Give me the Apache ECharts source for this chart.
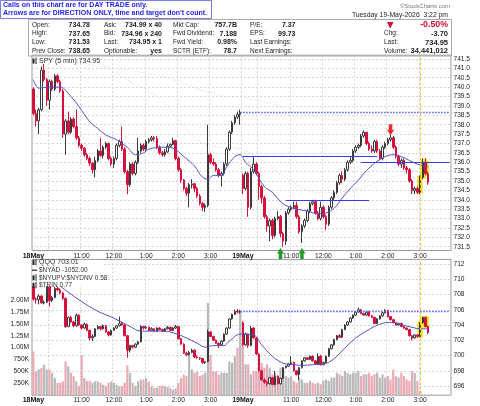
<!DOCTYPE html>
<html><head><meta charset="utf-8">
<script src="https://cdn.jsdelivr.net/npm/echarts@6/dist/echarts.min.js"></script>
<style>html,body{margin:0;padding:0;background:#fff}#c{width:480px;height:406px}</style>
</head><body><div id="c"></div><script>
// ---------- DATA ----------
const tickIdx = [0,18,30,42,54,66,78,96,108,120,132,144];
const tickLabels = ['18May','11:00','12:00','1:00','2:00','3:00','19May','11:00','12:00','1:00','2:00','3:00'];
const boldTicks = ['18May','19May'];
const gridIdx = [6,18,30,42,54,66,78,84,96,108,120,132,144];

const spyO = [739.90,738.60,738.20,738.80,740.90,740.40,739.30,740.30,739.90,740.60,
740.30,739.80,737.50,738.20,737.60,738.30,737.90,737.30,736.90,736.75,
736.40,736.20,735.95,735.60,736.10,736.60,736.35,736.80,737.00,736.20,
735.90,736.20,736.90,737.10,736.70,735.50,734.80,735.90,735.40,736.00,
736.60,736.90,736.70,737.10,737.20,737.30,737.25,736.80,736.50,736.40,
736.55,736.85,736.95,737.15,736.20,735.60,735.05,734.60,734.35,734.80,
734.85,734.60,734.20,733.80,733.60,733.70,736.40,736.00,735.90,735.60,
735.30,735.40,735.90,736.70,737.60,738.10,738.40,738.55,
735.30,734.60,735.40,733.60,735.50,735.90,735.40,734.70,734.10,733.10,
732.60,732.90,732.10,733.00,733.10,732.20,731.80,733.30,733.50,733.60,
733.70,733.10,732.30,732.60,732.90,733.40,733.80,733.90,733.30,733.00,
733.60,733.10,732.70,733.60,734.10,734.40,734.90,735.30,735.10,735.60,
736.00,736.10,736.60,736.80,736.90,737.40,737.60,737.00,736.70,736.60,
737.10,736.60,736.20,736.80,737.00,737.20,737.30,736.80,736.30,735.90,
736.10,735.70,735.60,735.00,734.50,734.60,734.40,735.20,736.00,735.40];
const spyH = [740.00,738.80,738.90,741.10,741.25,740.50,740.40,740.40,740.70,740.70,
740.40,739.90,738.30,738.70,738.40,738.40,738.80,737.40,737.00,736.80,
736.50,736.30,736.00,736.30,736.70,737.30,736.90,737.10,737.05,736.30,
736.30,737.00,737.20,737.90,736.80,735.60,736.00,736.00,736.10,737.30,
737.00,737.00,737.20,737.30,737.40,737.40,737.40,736.90,736.60,736.70,
737.00,737.00,737.30,737.20,736.30,735.70,735.10,734.70,734.90,735.10,
734.90,734.70,734.30,733.90,733.80,738.00,736.50,736.20,736.00,735.70,
735.50,736.00,736.80,737.70,738.20,738.50,738.70,738.80,
735.40,735.50,735.50,735.70,736.30,736.00,735.50,734.80,734.20,733.20,
733.00,733.00,733.10,733.40,733.20,732.30,733.40,733.60,733.70,733.90,
733.90,733.20,732.70,733.00,733.50,733.90,734.00,734.00,733.40,733.90,
733.70,733.20,733.70,734.20,734.50,735.00,735.40,735.50,735.70,736.10,
736.30,736.70,736.90,737.00,737.50,737.70,737.60,737.10,736.90,737.20,
737.20,736.70,736.90,737.10,737.30,737.60,737.40,736.90,736.40,736.20,
736.20,735.80,735.70,735.10,734.70,734.70,735.30,736.20,736.20,735.50];
const spyL = [738.50,737.90,737.50,738.70,740.30,739.00,738.80,739.80,739.80,740.20,
739.70,737.30,736.40,737.50,737.50,737.80,737.20,736.80,736.60,736.30,
736.10,735.80,735.40,735.20,736.00,736.30,736.20,736.70,736.10,735.80,
735.70,736.10,736.80,736.60,735.40,734.30,734.70,735.30,735.30,735.90,
736.50,736.60,736.60,737.00,737.10,737.10,736.70,736.40,736.30,736.30,
736.50,736.80,736.90,736.10,735.50,734.90,734.50,734.20,733.60,734.60,
734.40,734.10,733.70,733.40,733.35,733.60,735.90,735.80,735.50,735.20,
734.70,735.30,735.80,736.60,737.50,738.00,738.30,738.00,
734.30,734.50,733.10,733.50,735.40,735.30,734.00,733.80,733.00,732.30,
731.80,731.90,732.00,732.90,732.00,731.50,731.60,733.20,733.40,733.50,
733.00,732.20,731.70,732.50,732.80,733.30,733.70,733.20,732.90,732.90,
733.00,732.40,732.60,733.50,734.00,734.30,734.80,734.90,735.00,735.50,
735.90,736.00,736.50,736.70,736.80,737.30,736.90,736.60,736.50,736.50,
736.50,736.10,736.10,736.70,736.90,737.10,736.70,736.20,735.80,735.70,
735.60,735.40,734.90,734.30,734.30,734.30,734.30,735.10,735.30,734.80];
const spyC = [738.60,738.20,738.80,740.90,740.40,739.30,740.30,739.90,740.60,740.30,
739.80,737.50,738.20,737.60,738.30,737.90,737.30,736.90,736.75,736.40,
736.20,735.95,735.60,736.10,736.60,736.35,736.80,737.00,736.20,735.90,
736.20,736.90,737.10,736.70,735.50,734.80,735.90,735.40,736.00,736.60,
736.90,736.70,737.10,737.20,737.30,737.25,736.80,736.50,736.40,736.55,
736.85,736.95,737.15,736.20,735.60,735.05,734.60,734.35,734.80,734.85,
734.60,734.20,733.80,733.60,733.70,736.40,736.00,735.90,735.60,735.30,
735.40,735.90,736.70,737.60,738.10,738.40,738.55,738.65,
734.60,735.40,733.60,735.50,735.90,735.40,734.70,734.10,733.10,732.60,
732.90,732.10,733.00,733.10,732.20,731.80,733.30,733.50,733.60,733.70,
733.10,732.30,732.60,732.90,733.40,733.80,733.90,733.30,733.00,733.60,
733.10,732.70,733.60,734.10,734.40,734.90,735.30,735.10,735.60,736.00,
736.10,736.60,736.80,736.90,737.40,737.60,737.00,736.70,736.60,737.10,
736.60,736.20,736.80,737.00,737.20,737.30,736.80,736.30,735.90,736.10,
735.70,735.60,735.00,734.50,734.60,734.40,735.20,736.00,735.40,734.95];

// SPY moving averages: [bar index, value]
const spyMaBlue = [[0,740.40],[2,739.95],[6,740.00],[10,740.00],[14,739.50],[17,738.96],[21,738.16],[24,737.80],[27,737.45],[31,737.20],[35,736.80],[38,736.40],[41,736.50],[43,736.70],[48,736.80],[52,736.75],[56,736.30],[60,735.80],[63,735.20],[65,735.10],[67,735.30],[70,735.30],[72,735.76],[75,736.30],[77,736.40],[79,736.00],[82,735.60],[86,734.70],[89,734.40],[92,733.90],[94,733.70],[98,733.50],[102,733.40],[106,733.25],[109,733.30],[112,733.55],[115,734.10],[118,734.60],[121,735.05],[124,735.55],[127,735.95],[131,736.30],[134,736.40],[137,736.30],[140,736.10],[143,735.90],[147,735.76]];
const spyMaPink = [[22,741.5],[26,741.2],[36,740.3],[47,739.4],[58,737.6],[65,736.9],[77,736.7],[83,736.3],[94,735.2],[106,734.4],[119,734.5],[131,735.1],[144,735.6]];
const spyMaGreen = [[12,741.5],[17,741.3],[48,740.55],[68,739.6],[77,739.46],[88,739.15],[106,738.4],[125,737.9],[147,737.45]];

const spyPrevClose = 738.65;
const spyLevels = [[78,128,736.32],[122,155,736.00],[94,125,733.97]]; // [from, to, price]
const spyDownArrows = [[133,737.73]];
const spyUpArrows = [[92,731.3],[100,731.3]];
const markIdx = 144;
const hiIdx = [144,145,146];

const qqqO = [709.00,707.40,707.30,707.80,706.90,707.00,709.00,707.20,707.60,708.80,
708.60,708.20,707.50,703.80,705.00,704.40,703.90,705.30,704.00,703.60,
704.10,703.30,702.30,702.50,703.50,703.80,703.50,703.90,703.10,702.70,
703.30,703.60,703.90,704.20,704.00,702.60,700.70,701.30,701.10,701.50,
701.80,703.80,703.60,703.70,703.30,703.50,703.20,703.60,703.40,703.20,
703.50,703.70,703.30,703.60,703.80,702.20,701.50,700.30,700.10,700.40,
700.70,699.80,699.70,699.60,699.10,699.20,703.10,702.50,702.00,701.60,
701.40,701.90,702.80,703.60,704.80,705.40,705.80,705.70,
704.30,701.40,702.80,701.30,703.60,702.30,700.20,698.00,696.80,696.50,
696.30,697.10,696.20,697.30,696.30,697.00,698.40,698.60,698.90,699.10,
698.00,697.50,698.40,699.30,699.70,699.50,699.90,699.30,698.90,699.90,
698.80,699.10,699.90,700.90,701.40,702.10,702.60,702.40,703.40,704.00,
704.40,704.90,705.30,705.70,706.00,705.50,705.30,705.70,705.20,705.00,
704.20,704.80,705.20,705.60,705.90,705.10,704.70,704.30,704.00,704.20,
703.80,703.60,703.40,702.60,702.30,702.70,702.50,704.30,705.00,703.80];
const qqqH = [709.10,707.60,708.00,707.90,707.20,709.10,709.10,707.80,709.00,709.00,
708.80,708.30,707.60,705.10,705.20,704.50,705.50,705.40,704.10,704.30,
704.20,703.40,702.80,703.60,704.00,703.90,704.10,704.00,703.20,703.40,
703.70,704.00,705.10,704.40,704.10,702.70,701.40,701.40,701.60,701.90,
704.00,703.90,703.90,703.80,703.70,703.60,703.70,703.70,703.50,703.60,
703.90,703.80,703.70,704.00,703.90,702.30,701.60,700.50,700.60,700.90,
700.80,700.00,699.80,699.70,699.30,703.40,703.20,702.60,702.10,701.70,
702.00,702.90,703.70,704.90,705.50,706.00,706.10,706.00,
704.50,703.00,702.90,703.90,703.70,702.40,700.30,698.10,697.00,696.70,
697.20,697.20,698.00,697.40,697.10,698.50,698.70,699.00,699.90,699.20,
698.10,698.50,699.40,699.80,699.80,700.00,700.00,699.40,700.30,700.10,
699.20,700.00,701.00,701.50,702.20,702.70,702.80,703.50,704.10,704.50,
705.00,705.40,705.80,706.30,706.10,705.60,705.80,705.80,705.30,705.10,
704.90,705.30,705.70,706.10,706.00,705.20,704.80,704.40,704.30,704.30,
703.90,703.70,703.50,702.70,702.80,702.80,704.40,705.10,705.10,703.90];
const qqqL = [707.20,706.80,706.70,706.80,706.70,706.90,706.40,707.00,707.50,708.40,
708.00,707.30,703.60,703.70,704.30,703.70,703.80,703.90,703.40,703.50,
703.20,702.00,701.90,702.40,703.40,703.30,703.40,703.00,702.50,702.60,
703.20,703.50,703.80,703.90,702.50,699.70,700.40,700.90,701.00,701.40,
701.70,703.40,703.50,703.20,703.20,703.10,703.10,703.30,703.10,703.10,
703.40,703.20,703.20,703.50,702.10,701.40,700.20,699.90,700.00,700.30,
699.70,699.60,699.40,698.90,698.90,699.10,702.40,701.90,701.50,701.00,
701.30,701.80,702.70,703.50,704.70,705.30,705.50,705.50,
701.20,701.30,701.00,701.20,702.20,700.10,697.90,696.70,696.30,696.00,
696.20,696.10,696.10,696.20,696.20,696.90,698.30,698.50,698.80,697.90,
697.40,696.80,698.30,699.20,699.40,699.40,699.20,698.80,698.80,698.70,
698.70,699.00,699.80,700.80,701.30,702.00,702.30,702.30,703.30,703.90,
704.30,704.80,705.20,705.60,705.40,705.20,705.20,705.10,704.90,704.10,
704.10,704.70,705.10,705.50,705.00,704.60,704.20,703.90,703.90,703.70,
703.50,703.30,702.50,702.00,702.20,702.30,702.40,704.20,703.70,702.80];
const qqqC = [707.40,707.30,707.80,706.90,707.00,709.00,707.20,707.60,708.80,708.60,
708.20,707.50,703.80,705.00,704.40,703.90,705.30,704.00,703.60,704.10,
703.30,702.30,702.50,703.50,703.80,703.50,703.90,703.10,702.70,703.30,
703.60,703.90,704.20,704.00,702.60,700.70,701.30,701.10,701.50,701.80,
703.80,703.60,703.70,703.30,703.50,703.20,703.60,703.40,703.20,703.50,
703.70,703.30,703.60,703.80,702.20,701.50,700.30,700.10,700.40,700.70,
699.80,699.70,699.60,699.10,699.20,703.10,702.50,702.00,701.60,701.40,
701.90,702.80,703.60,704.80,705.40,705.80,705.70,705.80,
701.40,702.80,701.30,703.60,702.30,700.20,698.00,696.80,696.50,696.30,
697.10,696.20,697.30,696.30,697.00,698.40,698.60,698.90,699.10,698.00,
697.50,698.40,699.30,699.70,699.50,699.90,699.30,698.90,699.90,698.80,
699.10,699.90,700.90,701.40,702.10,702.60,702.40,703.40,704.00,704.40,
704.90,705.30,705.70,706.00,705.50,705.30,705.70,705.20,705.00,704.20,
704.80,705.20,705.60,705.90,705.10,704.70,704.30,704.00,704.20,703.80,
703.60,703.40,702.60,702.30,702.70,702.50,704.30,705.00,703.80,703.01];
const qqqMaBlue = [[10,709.1],[17,707.3],[24,705.8],[30,704.9],[36,703.8],[40,703.2],[48,703.2],[52,703.0],[57,702.3],[61,701.6],[64,701.1],[67,701.3],[71,701.3],[73,701.9],[77,702.8],[82,702.7],[85,701.4],[89,699.9],[93,699.0],[97,698.8],[100,698.7],[104,698.8],[108,698.9],[110,699.1],[113,699.9],[116,701.0],[120,702.3],[124,703.2],[127,703.8],[131,704.3],[134,704.35],[137,704.05],[141,703.7],[144,703.5],[147,703.5]];
const qqqPrevClose = 705.8;
// QQQ volume, millions
const qqqVol = [0.92,0.50,0.54,0.57,0.64,0.54,0.54,0.47,0.36,0.26,
0.26,0.29,0.71,0.61,0.47,0.40,0.29,0.19,0.85,0.36,
0.30,0.30,0.26,0.29,0.29,0.26,0.22,0.19,0.26,0.29,
0.26,0.22,0.19,0.19,0.26,0.63,0.47,0.26,0.19,0.29,
0.33,0.33,0.36,0.29,0.19,0.15,0.15,0.19,0.20,0.19,
0.17,0.15,0.12,0.14,0.26,0.36,0.43,0.40,0.85,0.54,
0.47,0.50,0.40,0.43,0.47,1.94,0.85,0.50,0.50,0.43,
0.47,0.47,0.47,0.71,0.68,0.82,1.00,1.75,
1.04,0.65,0.65,0.44,0.51,0.51,0.72,0.68,0.58,0.65,
0.58,0.44,0.47,0.40,0.58,0.51,0.40,0.37,0.40,0.30,
0.26,0.37,0.33,0.26,0.26,0.30,0.26,0.24,0.26,0.23,
0.30,0.33,0.30,0.37,0.37,0.47,0.44,0.40,0.51,0.47,
0.44,0.47,0.47,0.51,0.40,0.44,0.44,0.47,0.40,0.44,
0.47,0.37,0.44,0.37,0.40,0.33,0.54,0.40,0.37,0.47,
0.40,0.33,0.30,0.51,0.47,0.30,0.09,0,0,0];

// ---------- BUILD ----------
const FONT = '"Liberation Sans", Arial, sans-serif';
const RED = '#d5113d', DARK = '#3a3a3a', PINK = '#e9aab5', GREY = '#b9b9b9', YEL = '#f2e21a';
const cats = [];
['18','19'].forEach(d => { for (let k = 0; k < 78; k++) { const m = 570 + 5*k; cats.push(d + ' ' + Math.floor(m/60) + ':' + String(m%60).padStart(2,'0')); } });
const labelByCat = {}; tickIdx.forEach((ix, k) => labelByCat[cats[ix]] = tickLabels[k]);
const gridSet = new Set(gridIdx);

function candles(O,H,L,C){
  return O.map((o,i) => {
    const c = C[i], pc = i > 0 ? C[i-1] : o;
    const col = c < pc ? RED : DARK;
    const fill = c < o ? col : '#fff';
    return {value:[o,c,L[i],H[i]], itemStyle:{color:fill,color0:fill,borderColor:col,borderColor0:col}};
  });
}
function highlight(O,H,L,C){
  return O.map((o,i) => hiIdx.includes(i) ? [o,C[i],L[i],H[i]] : '-');
}
const isHalf = v => Math.abs(v*2 - Math.round(v*2)) < 1e-6;
const isEven = v => Math.abs(v/2 - Math.round(v/2)) < 1e-6;
const T = 'rgba(0,0,0,0)', GL = '#d4d4d4';

function xAx(g){
  return {type:'category', gridIndex:g, data:cats, boundaryGap:true,
    axisLine:{show:false}, axisTick:{show:false},
    axisLabel:{interval:(i,v) => labelByCat[v] !== undefined,
      formatter:(v) => { const s = labelByCat[v]; if (!s) return ''; return boldTicks.includes(s) ? '{b|'+s+'}' : s; },
      fontSize:6.7, color:'#222', margin: g ? 1.8 : 2.2, fontFamily:FONT,
      rich:{b:{fontWeight:'bold', fontSize:7, color:'#111', fontFamily:FONT}}},
    splitLine:{show:true, interval:(i) => gridSet.has(i), lineStyle:{color:GL, type:[2,2], width:1}}};
}
const arrowDown = 'path://M2,0 L6,0 L6,5 L8,5 L4,10 L0,5 L2,5 Z';
const arrowUp = 'path://M4,0 L8,5 L6,5 L6,10 L2,10 L2,5 L0,5 Z';

const G = [];
function txt(x,y,s,o={}){
  G.push({type:'text', x:x, y:y, z:100, silent:true,
    style:{text:s, fill:o.c||'#222', font:(o.b?'bold ':'')+(o.s||6.5)+'px '+FONT, align:o.a||'left', verticalAlign:'middle'}});
}
// blue notice box
G.push({type:'rect', z:99, shape:{x:0.5,y:0.5,width:211,height:18}, style:{fill:'#fff', stroke:'#7b7bd9', lineWidth:1}});
txt(3,5.5,'Calls on this chart are for DAY TRADE only.',{c:'#1f1fe6',b:true,s:7});
txt(3,13.5,"Arrows are for DIRECTION ONLY, time and target don't count.",{c:'#1f1fe6',b:true,s:7});
txt(450,6,'\u00A9StockCharts.com',{c:'#777',s:6,a:'right'});
txt(448,15,'Tuesday 19-May-2026  3:22 pm',{s:6.8,a:'right'});
G.push({type:'rect', z:90, shape:{x:28.5,y:19.5,width:423,height:36.5}, style:{fill:'none', stroke:'#aaa', lineWidth:1}});
const rowsY = [25,33.7,42.5,51];
[['Open:','734.78'],['High:','737.65'],['Low:','731.53'],['Prev Close:','738.65']].forEach((r,k)=>{txt(32,rowsY[k],r[0]);txt(90,rowsY[k],r[1],{b:true,s:7,a:'right'});});
[['Ask:','734.99 x 40'],['Bid:','734.96 x 240'],['Last:','734.95 x 1'],['Optionable:','yes']].forEach((r,k)=>{txt(104,rowsY[k],r[0]);txt(162,rowsY[k],r[1],{b:true,s:7,a:'right'});});
[['Mkt Cap:','757.7B'],['Fwd Dividend:','7.188'],['Fwd Yield:','0.98%'],['SCTR (ETF):','78.7']].forEach((r,k)=>{txt(173,rowsY[k],r[0]);txt(237,rowsY[k],r[1],{b:true,s:7,a:'right'});});
[['P/E:','7.37'],['EPS:','99.73'],['Last Earnings:',''],['Next Earnings:','']].forEach((r,k)=>{txt(250,rowsY[k],r[0]);txt(295.5,rowsY[k],r[1],{b:true,s:7,a:'right'});});
G.push({type:'polygon', z:100, shape:{points:[[387,22],[393.5,22],[390.2,28.5]]}, style:{fill:'#c8102e'}});
txt(448,25,'-0.50%',{c:'#d0102e',b:true,s:8.8,a:'right'});
[['Chg:','-3.70'],['Last:','734.95'],['Volume:','34,441,012']].forEach((r,k)=>{txt(384,rowsY[k+1],r[0]);txt(448,rowsY[k+1],r[1],{b:true,s:7.5,a:'right'});});
// panel legends
function candleIcon(x,y){
  G.push({type:'rect', z:101, shape:{x:x,y:y-2.5,width:2,height:5}, style:{fill:'#222'}});
  G.push({type:'line', z:101, shape:{x1:x+3.5,y1:y-3.5,x2:x+3.5,y2:y+3}, style:{stroke:'#222',lineWidth:1}});
}
candleIcon(32.5,61); txt(39,61,'SPY (5 min) 734.95',{s:7,c:'#333'});
G.push({type:'rect', z:99, shape:{x:32.5,y:260,width:70,height:25.5}, style:{fill:'#fff'}});
candleIcon(32.5,262.5); txt(39,262.5,'QQQ 703.01',{s:7,c:'#333'});
G.push({type:'line', z:101, shape:{x1:32,y1:270.2,x2:37,y2:270.2}, style:{stroke:'#222',lineWidth:1.2}});
txt(39,270.2,'$NYAD -1052.00',{s:6.5,c:'#333'});
candleIcon(32.5,277.8); txt(39,277.8,'$NYUPV:$NYDNV 0.58',{s:6.5,c:'#333'});
candleIcon(32.5,285.3); txt(39,285.3,'$TRIN 0.77',{s:6.5,c:'#333'});

const option = {
  animation:false, backgroundColor:'#fff',
  grid:[
    {left:32, top:55.2, width:419, height:195.3, show:true, borderColor:'#999', borderWidth:1},
    {left:32, top:259.4, width:419, height:135.8, show:true, borderColor:'#999', borderWidth:1}
  ],
  xAxis:[xAx(0), xAx(1)],
  yAxis:[
    {type:'value', gridIndex:0, position:'right', min:731.3, max:741.7, interval:0.1,
     axisLine:{show:false}, axisTick:{show:false},
     axisLabel:{formatter:v => isHalf(v) ? v.toFixed(1) : '', fontSize:6.6, color:'#222', margin:2.5, fontFamily:FONT},
     splitLine:{show:true, lineStyle:{color:[T,T,GL,T,T], type:[2,2], width:1}}},
    {type:'value', gridIndex:1, position:'right', min:694.8, max:712.6, interval:0.2,
     axisLine:{show:false}, axisTick:{show:false},
     axisLabel:{formatter:v => isEven(v) ? String(Math.round(v)) : '', fontSize:6.6, color:'#222', margin:2.5, fontFamily:FONT},
     splitLine:{show:true, lineStyle:{color:[T,T,T,T,T,T,GL,T,T,T], type:[2,2], width:1}}},
    {type:'value', gridIndex:1, position:'left', min:0, max:2.853, interval:0.25,
     axisLine:{show:false}, axisTick:{show:false}, splitLine:{show:false},
     axisLabel:{formatter:v => (v > 0.01 && v < 2.01) ? (v < 0.99 ? Math.round(v*1000)+'K' : v.toFixed(2)+'M') : '', fontSize:6.6, color:'#222', margin:3, fontFamily:FONT}}
  ],
  series:[
    {type:'line', xAxisIndex:0, yAxisIndex:0, data:spyMaGreen, smooth:0.4, symbol:'none', silent:true, z:1,
     lineStyle:{color:'#cfe0cf', width:1, type:[1,2]}},
    {type:'line', xAxisIndex:0, yAxisIndex:0, data:spyMaPink, smooth:0.4, symbol:'none', silent:true, z:1,
     lineStyle:{color:'#f2c4cc', width:1, type:[1,2]}},
    {type:'candlestick', xAxisIndex:0, yAxisIndex:0, data:highlight(spyO,spyH,spyL,spyC), barWidth:4, silent:true, z:1,
     itemStyle:{color:YEL,color0:YEL,borderColor:YEL,borderColor0:YEL,borderWidth:2.5}},
    {type:'candlestick', xAxisIndex:0, yAxisIndex:0, data:candles(spyO,spyH,spyL,spyC), barWidth:2, silent:true, z:2,
     itemStyle:{borderWidth:1},
     markLine:{symbol:'none', silent:true, label:{show:false}, animation:false,
       data:[
         [{coord:[77,spyPrevClose], lineStyle:{color:'#5b5bff', type:[1.5,1.5], width:1.4}},{coord:[155,spyPrevClose]}],
         ...spyLevels.map(l => [{coord:[l[0],l[2]], lineStyle:{color:'#3a3aee', type:'solid', width:1}},{coord:[l[1],l[2]]}]),
         {xAxis:markIdx, lineStyle:{color:'#f4c542', type:[3,2], width:1}}
       ]},
     markPoint:{silent:true, label:{show:false}, animation:false,
       data:[
         ...spyDownArrows.map(a => ({coord:a, symbol:arrowDown, symbolSize:[7,11], itemStyle:{color:'#ea2a2a'}})),
         ...spyUpArrows.map(a => ({coord:a, symbol:arrowUp, symbolSize:[7,11], symbolOffset:[0,3], itemStyle:{color:'#1f9e28'}}))
       ]}},
    {type:'line', xAxisIndex:0, yAxisIndex:0, data:spyMaBlue, smooth:0.35, symbol:'none', silent:true, z:3,
     lineStyle:{color:'#5252c8', width:1}},

    {type:'bar', xAxisIndex:1, yAxisIndex:2, barWidth:'82%', silent:true, z:1,
     data:qqqVol.map((v,i) => ({value:v, itemStyle:{color: qqqC[i] < qqqO[i] ? PINK : GREY}}))},
    {type:'candlestick', xAxisIndex:1, yAxisIndex:1, data:highlight(qqqO,qqqH,qqqL,qqqC), barWidth:4, silent:true, z:2,
     itemStyle:{color:YEL,color0:YEL,borderColor:YEL,borderColor0:YEL,borderWidth:2.5}},
    {type:'candlestick', xAxisIndex:1, yAxisIndex:1, data:candles(qqqO,qqqH,qqqL,qqqC), barWidth:2, silent:true, z:3,
     itemStyle:{borderWidth:1},
     markLine:{symbol:'none', silent:true, label:{show:false}, animation:false,
       data:[
         [{coord:[77,qqqPrevClose], lineStyle:{color:'#5b5bff', type:[1.5,1.5], width:1.4}},{coord:[155,qqqPrevClose]}],
         {xAxis:markIdx, lineStyle:{color:'#f4c542', type:[3,2], width:1}}
       ]}},
    {type:'line', xAxisIndex:1, yAxisIndex:1, data:qqqMaBlue, smooth:0.35, symbol:'none', silent:true, z:4,
     lineStyle:{color:'#5252c8', width:1}}
  ],
  graphic:G
};
const chart = echarts.init(document.getElementById('c'), null, {renderer:'canvas'});
chart.setOption(option);
</script></body></html>
